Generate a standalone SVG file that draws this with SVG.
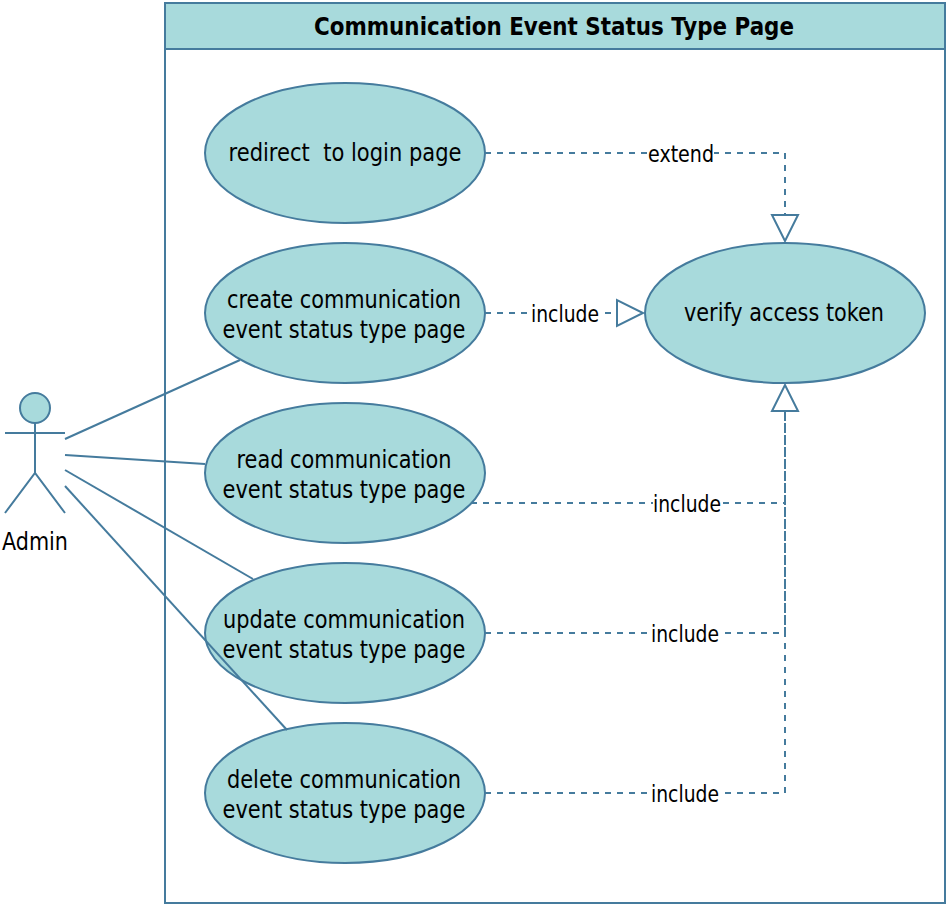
<svg xmlns="http://www.w3.org/2000/svg" width="948" height="906" viewBox="0 0 948 906">
<style>
text{font-family:"DejaVu Sans","Noto Sans",sans-serif;fill:#000;text-anchor:middle;white-space:pre}
.t{font-size:25px}
.l{font-size:23px}
.h{font-size:25px;font-weight:700}
.s{fill:#a8dadc;stroke:#457b9d;stroke-width:2}
.c{fill:none;stroke:#457b9d;stroke-width:2}
.d{stroke-dasharray:6 6}
.a{fill:#fff;stroke:#457b9d;stroke-width:2}
.b{fill:#fff;stroke:none}
</style>
<rect width="948" height="906" fill="#fff"/>
<g id="system">
<rect class="c" x="165" y="3" width="780" height="900"/>
<rect class="s" x="165" y="3" width="780" height="46"/>
<text class="h" x="554" y="35" textLength="480" lengthAdjust="spacingAndGlyphs">Communication Event Status Type Page</text>
</g>
<g id="admin">
<circle class="s" cx="35" cy="408" r="15"/>
<path class="c" d="M35 423V473M5 433H65M5 513L35 473L65 513"/>
<text class="t" x="35" y="550" textLength="66" lengthAdjust="spacingAndGlyphs">Admin</text>
</g>
<g id="redirect">
<ellipse class="s" cx="345" cy="153" rx="140" ry="70"/>
<text class="t" x="345" y="161" textLength="233" lengthAdjust="spacingAndGlyphs">redirect  to login page</text>
</g>
<g id="create">
<ellipse class="s" cx="345" cy="313" rx="140" ry="70"/>
<text class="t" x="344" y="308" textLength="234" lengthAdjust="spacingAndGlyphs">create communication</text>
<text class="t" x="344" y="338" textLength="243" lengthAdjust="spacingAndGlyphs">event status type page</text>
</g>
<g id="read">
<ellipse class="s" cx="345" cy="473" rx="140" ry="70"/>
<text class="t" x="344" y="468" textLength="215" lengthAdjust="spacingAndGlyphs">read communication</text>
<text class="t" x="344" y="498" textLength="243" lengthAdjust="spacingAndGlyphs">event status type page</text>
</g>
<g id="update">
<ellipse class="s" cx="345" cy="633" rx="140" ry="70"/>
<text class="t" x="344" y="628" textLength="242" lengthAdjust="spacingAndGlyphs">update communication</text>
<text class="t" x="344" y="658" textLength="243" lengthAdjust="spacingAndGlyphs">event status type page</text>
</g>
<g id="delete">
<ellipse class="s" cx="345" cy="793" rx="140" ry="70"/>
<text class="t" x="344" y="788" textLength="234" lengthAdjust="spacingAndGlyphs">delete communication</text>
<text class="t" x="344" y="818" textLength="243" lengthAdjust="spacingAndGlyphs">event status type page</text>
</g>
<g id="verify">
<ellipse class="s" cx="785" cy="313" rx="140" ry="70"/>
<text class="t" x="784" y="321" textLength="200" lengthAdjust="spacingAndGlyphs">verify access token</text>
</g>
<g id="connectors">
<path class="c" d="M65 439L240 360"/>
<path class="c" d="M65 455L205 464"/>
<path class="c" d="M65 470L253 579"/>
<path class="c" d="M65 486L287 730"/>
<path class="c d" d="M485 153H785V215"/>
<path class="c d" d="M485 313H617"/>
<path class="c d" d="M471 503H785V411"/>
<path class="c d" d="M485 633H785V411"/>
<path class="c d" d="M485 793H785V411"/>
<path class="a" d="M772 215H798L785 241Z"/>
<path class="a" d="M617 300V326L643 313Z"/>
<path class="a" d="M772 411H798L785 385Z"/>
<rect class="b" x="648" y="142" width="66" height="24"/>
<text class="l" x="681" y="162" textLength="66" lengthAdjust="spacingAndGlyphs">extend</text>
<rect class="b" x="531" y="302" width="69" height="24"/>
<text class="l" x="565" y="322" textLength="68" lengthAdjust="spacingAndGlyphs">include</text>
<rect class="b" x="653" y="492" width="69" height="24"/>
<text class="l" x="687" y="512" textLength="68" lengthAdjust="spacingAndGlyphs">include</text>
<rect class="b" x="651" y="622" width="69" height="24"/>
<text class="l" x="685" y="642" textLength="68" lengthAdjust="spacingAndGlyphs">include</text>
<rect class="b" x="651" y="782" width="69" height="24"/>
<text class="l" x="685" y="802" textLength="68" lengthAdjust="spacingAndGlyphs">include</text>
</g>
</svg>
